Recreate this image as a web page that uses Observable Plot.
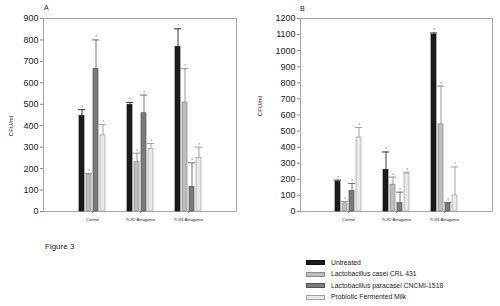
<!DOCTYPE html>
<html>
<head>
<meta charset="utf-8">
<script src="https://cdn.jsdelivr.net/npm/d3@7"></script>
<script src="https://cdn.jsdelivr.net/npm/@observablehq/plot@0.6"></script>
<style>
  html, body { margin: 0; padding: 0; background: #fff; }
  #root { position: relative; width: 500px; height: 306px; overflow: hidden; font-family: "Liberation Sans", Arial, sans-serif; color: #222; }
  .layer { position: absolute; top: 0; }
  .lbl { position: absolute; font-size: 7px; white-space: nowrap; }
  .ylab { position: absolute; font-size: 6px; white-space: nowrap; transform: translate(-50%, -50%) rotate(-90deg); }
  .sw { position: absolute; width: 19px; height: 5px; box-sizing: border-box; }
  .lt { position: absolute; font-size: 6.8px; white-space: nowrap; line-height: 8px; }
</style>
</head>
<body>
<div id="root"></div>
<script>
// ---- data ----
const groups = ["Control", "TLR2 Antagonist", "TLR4 Antagonist"];
const series = ["Untreated", "Lactobacillus casei CRL 431", "Lactobacillus paracasei CNCMI-1518", "Probiotic Fermented Milk"];

// Panel A (CFU/ml), per series across groups
const aUntreated = [445, 497, 767];
const aCasei = [170, 232, 508];
const aParacasei = [665, 458, 115];
const aMilk = [355, 292, 250];
const aUntreatedErr = [30, 12, 85];
const aCaseiErr = [8, 40, 158];
const aParacaseiErr = [135, 85, 112];
const aMilkErr = [50, 25, 50];

// Panel B (CFU/ml)
const bUntreated = [185, 258, 1100];
const bCasei = [50, 167, 542];
const bParacasei = [127, 52, 50];
const bMilk = [460, 233, 100];
const bUntreatedErr = [10, 112, 10];
const bCaseiErr = [12, 47, 238];
const bParacaseiErr = [47, 68, 6];
const bMilkErr = [62, 12, 177];

const aTicks = d3.range(0, 901, 100);
const bTicks = d3.range(0, 1201, 100);

// styles
const fills = ["#1b1b1b", "#bdbdbd", "#7b7b7b", "#e8e8e8"];
const strokes = ["#111111", "#8a8a8a", "#555555", "#a0a0a0"];
const errColors = ["#222222", "#8a8a8a", "#666666", "#999999"];

const FONT = "Liberation Sans, Arial, sans-serif";

function rows(vals, errs) {
  return groups.flatMap((g, i) => series.map((s, j) => ({
    group: g, series: s, value: vals[j][i], err: errs[j][i],
    fill: fills[j], stroke: strokes[j], errc: errColors[j]
  })));
}

function panel(vals, errs, ticks, left, width, marginLeft) {
  const data = rows(vals, errs);
  const common = {
    width, height: 230, marginLeft, marginRight: 4, marginTop: 18, marginBottom: 19,
    style: { fontFamily: FONT, background: "transparent", color: "#222" }
  };
  const yMax = ticks[ticks.length - 1];
  // frame + y axis layer
  const base = Plot.plot({
    ...common,
    y: { domain: [0, yMax], label: null },
    marks: [
      Plot.frame({ stroke: "#a8a8a8" }),
      Plot.axisY({ ticks, tickFormat: d3.format("d"), tickSize: 3, tickPadding: 2, fontSize: 9, stroke: "#888", label: null })
    ]
  });
  // bars layer (faceted)
  const bars = Plot.plot({
    ...common,
    color: { type: "identity" },
    y: { domain: [0, yMax], axis: null },
    fx: { domain: groups, paddingInner: 0, paddingOuter: 0.5, label: null },
    x: { domain: series, paddingInner: 0.25, paddingOuter: 1.41, axis: null },
    marks: [
      Plot.axisFx({ anchor: "bottom", tickSize: 2, tickPadding: 5, fontSize: 4, stroke: "#888", label: null }),
      Plot.ruleX(data, { fx: "group", x: "series", y1: "value", y2: d => d.value + d.err, stroke: "errc", strokeWidth: 0.9 }),
      Plot.barY(data, { fx: "group", x: "series", y: "value", fill: "fill", stroke: "stroke", strokeWidth: 0.7 }),
      Plot.tickY(data, { fx: "group", x: "series", y: d => d.value + d.err, stroke: "errc", strokeWidth: 0.9, insetLeft: -1.2, insetRight: -1.2 }),
      Plot.text(data, { fx: "group", x: "series", y: d => d.value + d.err, text: () => "*", fill: "#777", fontSize: 4.5, dy: -2 })
    ]
  });
  for (const svg of [base, bars]) {
    svg.classList.add("layer");
    svg.style.left = left + "px";
    root.appendChild(svg);
  }
}

const root = document.getElementById("root");
panel([aUntreated, aCasei, aParacasei, aMilk], [aUntreatedErr, aCaseiErr, aParacaseiErr, aMilkErr], aTicks, 0, 240, 43);
panel([bUntreated, bCasei, bParacasei, bMilk], [bUntreatedErr, bCaseiErr, bParacaseiErr, bMilkErr], bTicks, 250, 246, 50);

function addText(cls, txt, x, y, extra) {
  const el = document.createElement("div");
  el.className = cls;
  el.textContent = txt;
  el.style.left = x + "px";
  el.style.top = y + "px";
  if (extra) Object.assign(el.style, extra);
  root.appendChild(el);
  return el;
}
addText("lbl", "A", 44, 4);
addText("lbl", "B", 300, 5);
addText("ylab", "CFU/ml", 11, 126);
addText("ylab", "CFU/ml", 260, 106);
addText("lbl", "Figure 3", 45, 242, { fontSize: "8px" });

// legend
const legendTop = [260, 271.5, 283, 294.5];
series.forEach((s, i) => {
  const sw = document.createElement("div");
  sw.className = "sw";
  sw.style.left = "306px";
  sw.style.top = legendTop[i] + "px";
  sw.style.background = fills[i];
  sw.style.border = "0.8px solid " + strokes[i];
  root.appendChild(sw);
  addText("lt", s, 331, legendTop[i] - 1.5);
});
</script>
</body>
</html>
